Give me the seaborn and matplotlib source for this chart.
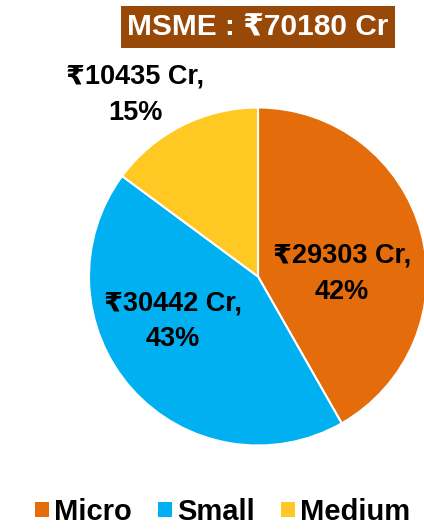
import matplotlib
matplotlib.use("Agg")
import matplotlib.pyplot as plt
from matplotlib.patches import Patch
import seaborn as sns

categories = ["Micro", "Small", "Medium"]
values = [29303, 30442, 10435]
percents = ["42%", "43%", "15%"]
title_text = "MSME : ₹70180 Cr"

sns.set_theme(style="white")
plt.rcParams["font.family"] = ["Liberation Sans", "DejaVu Sans"]
colors = sns.color_palette(["#E46C0A", "#00B0F0", "#FFC823"])

W, H = 424, 529
fig = plt.figure(figsize=(W / 100, H / 100), dpi=100)
cx, cy, r = 258, 276.5, 169
ax = fig.add_axes([(cx - r) / W, (H - cy - r) / H, 2 * r / W, 2 * r / H])
wedges, _ = ax.pie(values, colors=colors, startangle=90, counterclock=False,
                   wedgeprops=dict(edgecolor="white", linewidth=1.5))
ax.set_xlim(-1, 1)
ax.set_ylim(-1, 1)
ax.set_aspect("equal")
ax.axis("off")

label_pos = [(0.497, 0.015), (-0.503, -0.266), (-0.728, 1.074)]
for cat, v, p, (x, y) in zip(categories, values, percents, label_pos):
    ax.text(x, y, f"₹{v} Cr,\n{p}", ha="center", va="center", fontsize=19.5,
            fontweight="bold", color="black", linespacing=1.5)

fig.text(258 / W, 1 - 27 / H, title_text, ha="center", va="center", fontsize=21.5,
         fontweight="bold", color="white",
         bbox=dict(boxstyle="square,pad=0.22", facecolor="#984807", edgecolor="none"))

handles = [Patch(facecolor=c, edgecolor="none") for c in colors]
fig.legend(handles, categories, loc="center", bbox_to_anchor=(223 / W, 1 - 512 / H),
           ncol=3, frameon=False, prop=dict(size=21, weight="bold"),
           labelcolor="black", borderpad=0.1,
           handlelength=0.45, handleheight=0.45, handletextpad=0.2, columnspacing=0.9)

fig.savefig("out.png", dpi=100)
